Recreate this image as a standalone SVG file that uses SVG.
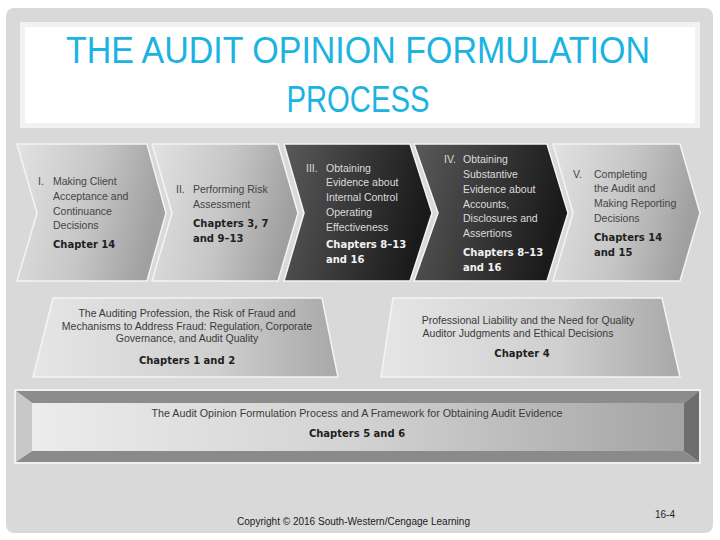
<svg xmlns="http://www.w3.org/2000/svg" width="720" height="540" viewBox="0 0 720 540">
<defs>
<linearGradient id="gLight" x1="0" y1="0" x2="1" y2="0.2">
<stop offset="0" stop-color="#e2e2e2"/><stop offset="0.55" stop-color="#c6c6c6"/><stop offset="1" stop-color="#a0a0a0"/>
</linearGradient>
<linearGradient id="gDark" x1="0" y1="0" x2="1" y2="0.2">
<stop offset="0" stop-color="#5a5a5a"/><stop offset="0.6" stop-color="#333"/><stop offset="1" stop-color="#1a1a1a"/>
</linearGradient>
<linearGradient id="gTrap" x1="0" y1="0" x2="1" y2="0">
<stop offset="0" stop-color="#e6e6e6"/><stop offset="0.6" stop-color="#cfcfcf"/><stop offset="1" stop-color="#a8a8a8"/>
</linearGradient>
<linearGradient id="gBar" x1="0" y1="0" x2="1" y2="0">
<stop offset="0" stop-color="#ececec"/><stop offset="0.5" stop-color="#d2d2d2"/><stop offset="1" stop-color="#a4a4a4"/>
</linearGradient>
</defs>
<style>
.light{fill:url(#gLight);stroke:#f4f4f4;stroke-width:1.5}
.dark{fill:url(#gDark);stroke:#f4f4f4;stroke-width:1.5}
.trap{fill:url(#gTrap);stroke:#f4f4f4;stroke-width:1.5}
.t{font-family:"Liberation Sans",Arial,sans-serif;font-size:10.5px;fill:#444}
.tw{font-family:"Liberation Sans",Arial,sans-serif;font-size:10.5px;fill:#dcdcdc}
.b{font-family:"DejaVu Sans",Verdana,sans-serif;font-weight:bold;font-size:10px;fill:#1e1e1e}
.bw{font-family:"DejaVu Sans",Verdana,sans-serif;font-weight:bold;font-size:10px;fill:#f2f2f2}
.s{font-family:"Liberation Sans",Arial,sans-serif;font-size:10.5px;fill:#3a3a3a}
.title{font-family:"Liberation Sans",Arial,sans-serif;font-size:37px;fill:#1ab3e2}
.foot{font-family:"Liberation Sans",Arial,sans-serif;font-size:10px;fill:#222}
</style>
<rect x="0" y="0" width="720" height="540" fill="#ffffff"/>
<rect x="6" y="8" width="707" height="525" rx="8" fill="#d9d9d9"/>
<g id="title">
<rect x="20" y="22" width="680" height="106" fill="#f2f2f2"/>
<rect x="25" y="27" width="670" height="96" fill="#ffffff"/>
<text class="title" x="358" y="63" text-anchor="middle" textLength="584" lengthAdjust="spacingAndGlyphs">THE AUDIT OPINION FORMULATION</text>
<text class="title" x="358" y="112" text-anchor="middle" textLength="143" lengthAdjust="spacingAndGlyphs">PROCESS</text>
</g>
<g id="connectors"/>
<g id="step1">
<path class="light" d="M17,144 L147,144 L166,213 L147,281 L17,281 L37,213 Z"/>
<text class="t" x="38" y="185">I.</text>
<text class="t" x="53" y="185">Making Client</text>
<text class="t" x="53" y="200">Acceptance and</text>
<text class="t" x="53" y="215">Continuance</text>
<text class="t" x="53" y="229">Decisions</text>
<text class="b" x="53" y="248">Chapter 14</text>
</g>
<g id="step2">
<path class="light" d="M152,144 L278,144 L298,213 L278,281 L152,281 L172,213 Z"/>
<text class="t" x="176" y="193">II.</text>
<text class="t" x="193" y="193">Performing Risk</text>
<text class="t" x="193" y="208">Assessment</text>
<text class="b" x="193" y="227">Chapters 3, 7</text>
<text class="b" x="193" y="242">and 9–13</text>
</g>
<g id="step3">
<path class="dark" d="M284,144 L410,144 L432,213 L410,281 L284,281 L304,213 Z"/>
<text class="tw" x="306" y="172">III.</text>
<text class="tw" x="326" y="172">Obtaining</text>
<text class="tw" x="326" y="186">Evidence about</text>
<text class="tw" x="326" y="201">Internal Control</text>
<text class="tw" x="326" y="216">Operating</text>
<text class="tw" x="326" y="231">Effectiveness</text>
<text class="bw" x="326" y="248">Chapters 8–13</text>
<text class="bw" x="326" y="263">and 16</text>
</g>
<g id="step4">
<path class="dark" d="M414,144 L547,144 L568,213 L547,281 L414,281 L438,213 Z"/>
<text class="tw" x="444" y="163">IV.</text>
<text class="tw" x="463" y="163">Obtaining</text>
<text class="tw" x="463" y="178">Substantive</text>
<text class="tw" x="463" y="193">Evidence about</text>
<text class="tw" x="463" y="208">Accounts,</text>
<text class="tw" x="463" y="222">Disclosures and</text>
<text class="tw" x="463" y="237">Assertions</text>
<text class="bw" x="463" y="256">Chapters 8–13</text>
<text class="bw" x="463" y="271">and 16</text>
</g>
<g id="step5">
<path class="light" d="M553,144 L680,144 L700,213 L680,281 L553,281 L573,213 Z"/>
<text class="t" x="573" y="178">V.</text>
<text class="t" x="594" y="178">Completing</text>
<text class="t" x="594" y="192">the Audit and</text>
<text class="t" x="594" y="207">Making Reporting</text>
<text class="t" x="594" y="222">Decisions</text>
<text class="b" x="594" y="241">Chapters 14</text>
<text class="b" x="594" y="256">and 15</text>
</g>
<g id="profession">
<path class="trap" d="M53,298 L322,298 L338,377 L33,377 Z"/>
<text class="s" x="187" y="317" text-anchor="middle">The Auditing Profession, the Risk of Fraud and</text>
<text class="s" x="187" y="330" text-anchor="middle">Mechanisms to Address Fraud: Regulation, Corporate</text>
<text class="s" x="187" y="342" text-anchor="middle">Governance, and Audit Quality</text>
<text class="b" x="187" y="364" text-anchor="middle">Chapters 1 and 2</text>
</g>
<g id="liability">
<path class="trap" d="M393,298 L662,298 L680,377 L381,377 Z"/>
<text class="s" x="528" y="324" text-anchor="middle">Professional Liability and the Need for Quality</text>
<text class="s" x="518" y="337" text-anchor="middle">Auditor Judgments and Ethical Decisions</text>
<text class="b" x="522" y="357" text-anchor="middle">Chapter 4</text>
</g>
<g id="framework">
<rect x="14" y="389" width="687" height="75" fill="#f0f0f0"/>
<path d="M16,391 L699,391 L684,403 L32,403 Z" fill="#8c8c8c"/>
<path d="M16,391 L32,403 L32,451 L16,462 Z" fill="#c8c8c8"/>
<path d="M699,391 L699,462 L684,451 L684,403 Z" fill="#6e6e6e"/>
<path d="M16,462 L32,451 L684,451 L699,462 Z" fill="#8a8a8a"/>
<rect x="32" y="403" width="652" height="48" fill="url(#gBar)"/>
<text class="s" x="357" y="417" text-anchor="middle" textLength="411" lengthAdjust="spacingAndGlyphs">The Audit Opinion Formulation Process and A Framework for Obtaining Audit Evidence</text>
<text class="b" x="357" y="437" text-anchor="middle">Chapters 5 and 6</text>
</g>
<text class="foot" x="237" y="525" textLength="233" lengthAdjust="spacingAndGlyphs">Copyright © 2016 South-Western/Cengage Learning</text>
<text class="foot" x="655" y="518">16-4</text>
</svg>
